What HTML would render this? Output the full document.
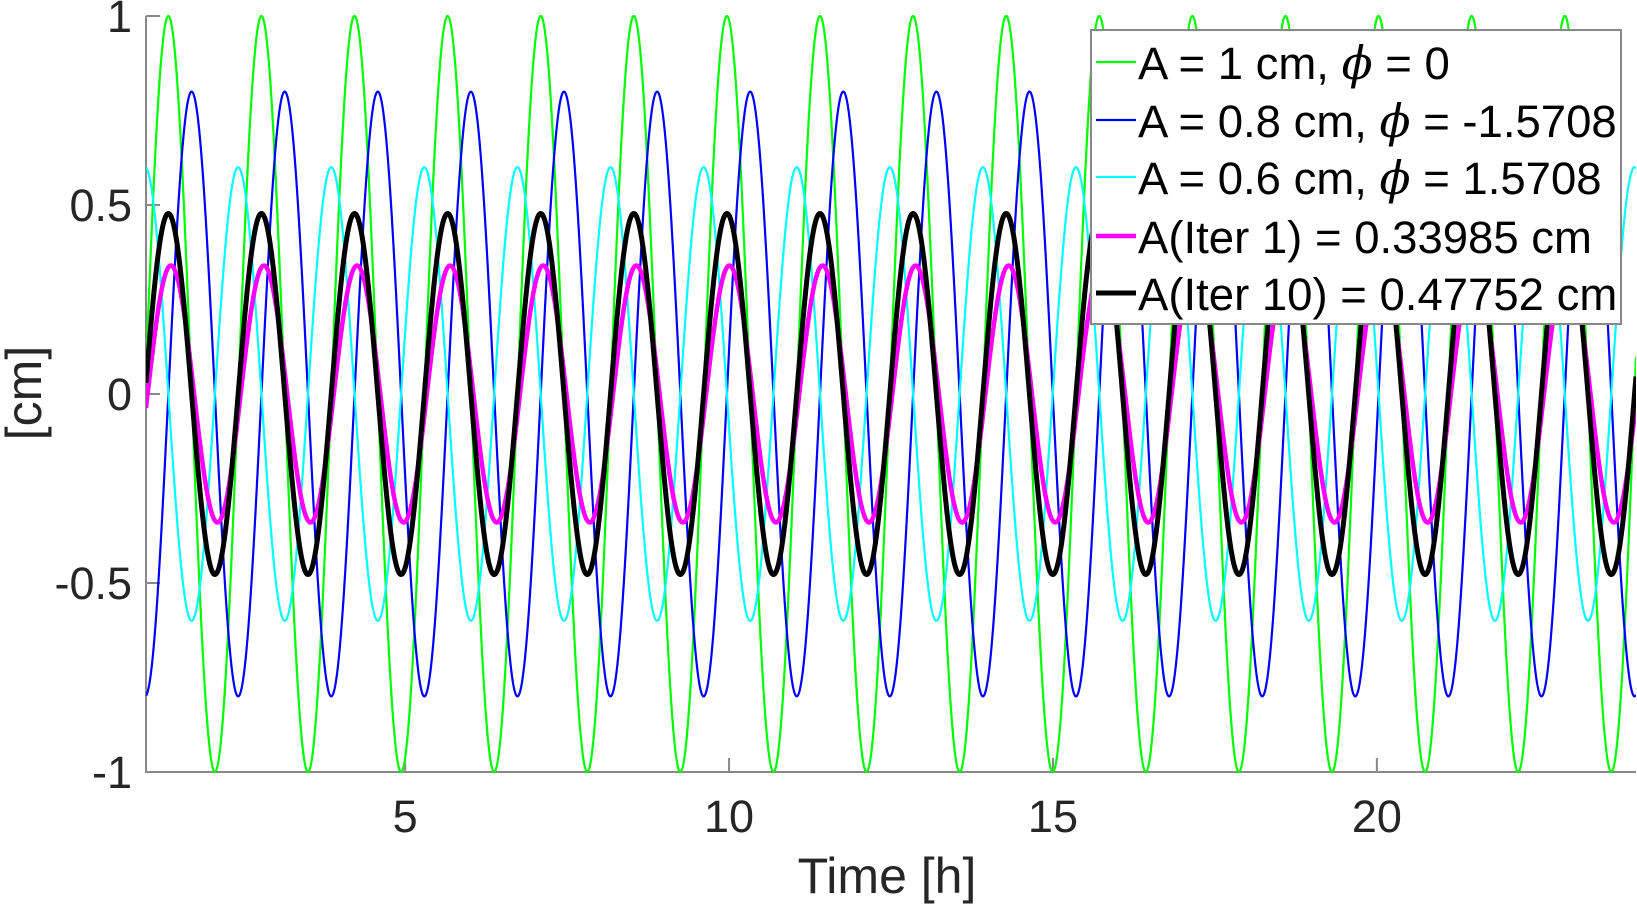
<!DOCTYPE html>
<html><head><meta charset="utf-8"><style>
html,body{margin:0;padding:0;background:#fff;}
svg{display:block;font-family:"Liberation Sans",Arial,sans-serif;}
</style></head><body>
<svg id="chart" width="1637" height="906" viewBox="0 0 1637 906" xmlns="http://www.w3.org/2000/svg">
<g id="axes"></g>
<g id="plot"></g>
<g id="legend"></g>
<text x="887" y="893" font-size="50" fill="#262626" text-anchor="middle">Time [h]</text>
<text transform="translate(41,393) rotate(-90)" font-size="50" fill="#262626" text-anchor="middle">[cm]</text>
</svg>
<script>
const seriesNames = ["green-wave","blue-wave","cyan-wave","iter1-wave","iter10-wave"];
const amplitudes = [1, 0.8, 0.6, 0.33985, 0.47752];
const phases = [0, -1.5708, 1.5708, -0.17, 0];
const colors = ["#00ff00","#0000ff","#00ffff","#ff00ff","#000000"];
const widths = [2.2, 2.2, 2.2, 4.5, 5];
const legendLabels = [
 ["A = 1 cm, ","\u03d5"," = 0"],
 ["A = 0.8 cm, ","\u03d5"," = -1.5708"],
 ["A = 0.6 cm, ","\u03d5"," = 1.5708"],
 ["A(Iter 1) = 0.33985 cm","",""],
 ["A(Iter 10) = 0.47752 cm","",""]
];
const periodHours = 1.437;
const peakTime = 1.345;
const xTicks = [5,10,15,20];
const yTicks = [-1,-0.5,0,0.5,1];
const yTickLabels = ["-1","-0.5","0","0.5","1"];
const xMin = 1, xMax = 24, yMin = -1, yMax = 1;

const L=146, R=1636, T=16, B=772;
const NS="http://www.w3.org/2000/svg";
function sx(v){return L+(v-xMin)/(xMax-xMin)*(R-L);}
function sy(v){return B-(v-yMin)/(yMax-yMin)*(B-T);}
function mk(tag,attrs,parent){const e=document.createElementNS(NS,tag);for(const k in attrs)e.setAttribute(k,attrs[k]);parent.appendChild(e);return e;}

const axes=document.getElementById('axes');
const plot=document.getElementById('plot');
const legend=document.getElementById('legend');

const clip=mk('clipPath',{id:'clp'},document.getElementById('chart'));
mk('rect',{x:L,y:T-4,width:R-L,height:B-T+8},clip);
plot.setAttribute('clip-path','url(#clp)');
const w=2*Math.PI/periodHours;
for(let s=0;s<amplitudes.length;s++){
  let d='';
  for(let t=xMin;t<=xMax+1e-9;t+=0.01){
    const v=amplitudes[s]*Math.cos(w*(t-peakTime)+phases[s]);
    d+=(d?'L':'M')+sx(t).toFixed(2)+' '+sy(v).toFixed(2);
  }
  const p=mk('path',{d:d,fill:'none',stroke:colors[s],'stroke-width':widths[s],'stroke-linejoin':'round'},plot);
  
  
}

const ax=mk('path',{d:`M${L} ${T}V${B}H${R}`,fill:'none',stroke:'#888','stroke-width':2},axes);


xTicks.forEach((v,i)=>{
  const x=sx(v);
  const tk=mk('line',{x1:x,x2:x,y1:B,y2:B-14,stroke:'#888','stroke-width':2},axes);
  
  
  const tx=mk('text',{x:x,y:832,'font-size':45,fill:'#262626','text-anchor':'middle'},axes);
  tx.textContent=String(v);
  
  
});
yTicks.forEach((v,i)=>{
  const y=sy(v);
  const tk=mk('line',{x1:L,x2:L+14,y1:y,y2:y,stroke:'#888','stroke-width':2},axes);
  
  
  const tx=mk('text',{x:132,y:y+16,'font-size':45,fill:'#262626','text-anchor':'end'},axes);
  tx.textContent=yTickLabels[i];
  
  
});

const box=mk('rect',{x:1091,y:30,width:530,height:294,fill:'#fff',stroke:'#888','stroke-width':2},legend);


const rowY=[62,120,177,236,293];
for(let s=0;s<legendLabels.length;s++){
  const g=mk('g',{},legend);
  
  
  mk('line',{x1:1096,x2:1136,y1:rowY[s],y2:rowY[s],stroke:colors[s],'stroke-width':widths[s]},g);
  const tx=mk('text',{x:1138,y:rowY[s]+17,'font-size':45.5,fill:'#000'},g);
  const lab=legendLabels[s];
  const a=mk('tspan',{},tx); a.textContent=lab[0];
  if(lab[1]){const b=mk('tspan',{'font-style':'italic','font-family':'"DejaVu Serif",serif'},tx); b.textContent=lab[1];
    const c=mk('tspan',{},tx); c.textContent=lab[2];}
}
</script>
</body></html>
